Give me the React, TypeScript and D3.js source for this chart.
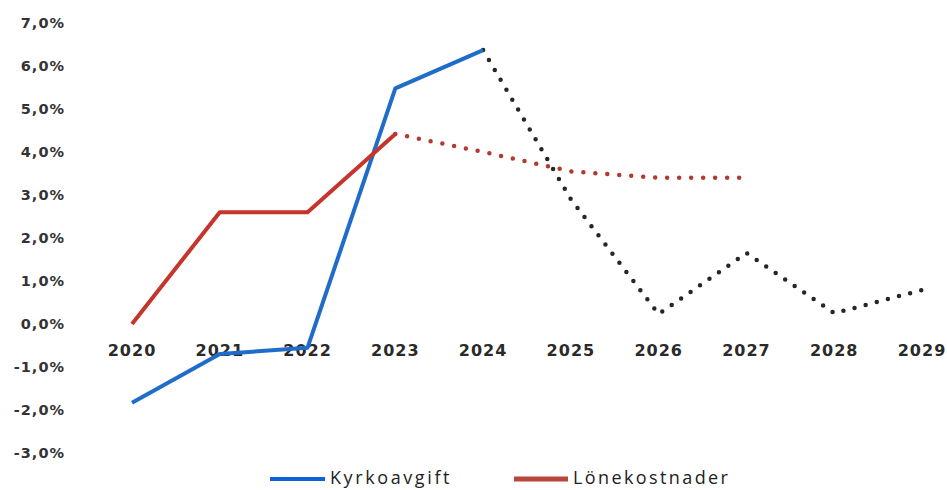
import React from "react";
import * as d3 from "d3";

const years = ["2020", "2021", "2022", "2023", "2024", "2025", "2026", "2027", "2028", "2029"];
const yTicks = [-3, -2, -1, 0, 1, 2, 3, 4, 5, 6, 7];

// Kyrkoavgift: actual 2020–2024, forecast 2024–2029
const kyrkoActualYears = ["2020", "2021", "2022", "2023", "2024"];
const kyrkoActual = [-1.83, -0.7, -0.55, 5.48, 6.37];
const kyrkoForecastYears = ["2024", "2025", "2026", "2027", "2028", "2029"];
const kyrkoForecast = [6.37, 2.9, 0.23, 1.65, 0.25, 0.79];

// Lönekostnader: actual 2020–2023, forecast 2023–2027
const loneActualYears = ["2020", "2021", "2022", "2023"];
const loneActual = [0.0, 2.6, 2.6, 4.42];
const loneForecastYears = ["2023", "2024", "2025", "2026", "2027"];
const loneForecast = [4.42, 4.0, 3.55, 3.4, 3.4];

const W = 947;
const H = 490;

export default function App() {
  const x = d3.scalePoint<string>().domain(years).range([132, 922]);
  const y = d3.scaleLinear().domain([-3, 7]).range([453, 23]);
  const line = d3
    .line<[string, number]>()
    .x((d) => x(d[0]) as number)
    .y((d) => y(d[1]));
  const zip = (a: string[], b: number[]) => a.map((k, i) => [k, b[i]] as [string, number]);

  const fmt = (v: number) => v.toFixed(1).replace(".", ",") + "%";
  const labelFont = "'DejaVu Sans', Verdana, sans-serif";

  return (
    <svg
      width={W}
      height={H}
      style={{ position: "absolute", left: 0, top: 0, background: "#fff" }}
    >
      {yTicks.map((t) => (
        <text
          key={t}
          x={65}
          y={y(t)}
          dy="0.36em"
          textAnchor="end"
          fontFamily={labelFont}
          fontWeight="bold"
          fontSize={14.5}
          letterSpacing={1}
          fill="#333"
        >
          {fmt(t)}
        </text>
      ))}
      {years.map((yr) => (
        <text
          key={yr}
          x={x(yr)}
          y={y(0) + 32}
          textAnchor="middle"
          fontFamily={labelFont}
          fontWeight="bold"
          fontSize={16}
          letterSpacing={1}
          fill="#2a2a2a"
        >
          {yr}
        </text>
      ))}

      {/* forecast dotted lines */}
      <path
        d={line(zip(loneForecastYears, loneForecast)) || ""}
        fill="none"
        stroke="#b23a2e"
        strokeWidth={4.5}
        strokeLinecap="round"
        strokeDasharray="0 12"
      />
      <path
        d={line(zip(kyrkoForecastYears, kyrkoForecast)) || ""}
        fill="none"
        stroke="#262626"
        strokeWidth={4.5}
        strokeLinecap="round"
        strokeDasharray="0 11.5"
      />

      {/* actual solid lines */}
      <path
        d={line(zip(kyrkoActualYears, kyrkoActual)) || ""}
        fill="none"
        stroke="#1f6cc9"
        strokeWidth={4}
        strokeLinejoin="round"
      />
      <path
        d={line(zip(loneActualYears, loneActual)) || ""}
        fill="none"
        stroke="#c6352b"
        strokeWidth={4}
        strokeLinejoin="round"
      />

      {/* legend */}
      <line x1={270} x2={325} y1={479} y2={479} stroke="#0b63d6" strokeWidth={4} />
      <text
        x={330}
        y={484}
        fontFamily="'Open Sans', sans-serif"
        fontSize={18}
        letterSpacing={2.6}
        fill="#222"
      >
        Kyrkoavgift
      </text>
      <line x1={514} x2={568} y1={479} y2={479} stroke="#b8463b" strokeWidth={5} />
      <text
        x={573}
        y={484}
        fontFamily="'Open Sans', sans-serif"
        fontSize={18}
        letterSpacing={2.4}
        fill="#222"
      >
        Lönekostnader
      </text>
    </svg>
  );
}
